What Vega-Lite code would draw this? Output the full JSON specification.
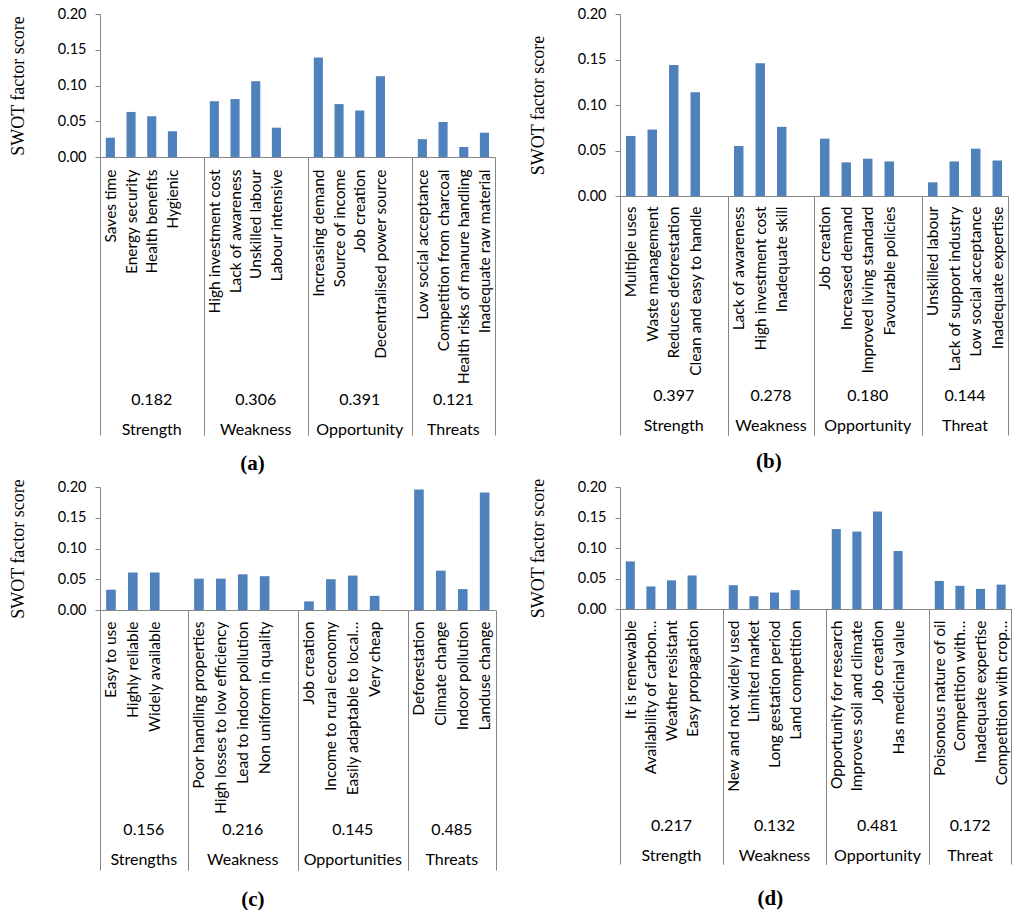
{
  "$schema": "https://vega.github.io/schema/vega-lite/v6.json",
  "background": "white",
  "padding": {"left": 9, "top": 6, "right": 0, "bottom": 0},
  "columns": 2,
  "spacing": {"row": 4, "column": 32},
  "concat": [
    {
      "title": {"text": "(a)", "offset": 15},
      "data": {"values": [
        {"group": "Strength", "gscore": "0.182", "item": "Saves time", "score": 0.027},
        {"group": "Strength", "gscore": "0.182", "item": "Energy security", "score": 0.063},
        {"group": "Strength", "gscore": "0.182", "item": "Health benefits", "score": 0.057},
        {"group": "Strength", "gscore": "0.182", "item": "Hygienic", "score": 0.036},
        {"group": "Strength", "gscore": "0.182", "item": " ", "score": null},
        {"group": "Weakness", "gscore": "0.306", "item": "High investment cost", "score": 0.078},
        {"group": "Weakness", "gscore": "0.306", "item": "Lack of awareness", "score": 0.081},
        {"group": "Weakness", "gscore": "0.306", "item": "Unskilled labour", "score": 0.106},
        {"group": "Weakness", "gscore": "0.306", "item": "Labour intensive", "score": 0.041},
        {"group": "Weakness", "gscore": "0.306", "item": " ", "score": null},
        {"group": "Opportunity", "gscore": "0.391", "item": "Increasing demand", "score": 0.139},
        {"group": "Opportunity", "gscore": "0.391", "item": "Source of income", "score": 0.074},
        {"group": "Opportunity", "gscore": "0.391", "item": "Job creation", "score": 0.065},
        {"group": "Opportunity", "gscore": "0.391", "item": "Decentralised power source", "score": 0.113},
        {"group": "Opportunity", "gscore": "0.391", "item": " ", "score": null},
        {"group": "Threats", "gscore": "0.121", "item": "Low social acceptance", "score": 0.025},
        {"group": "Threats", "gscore": "0.121", "item": "Competition from charcoal", "score": 0.049},
        {"group": "Threats", "gscore": "0.121", "item": "Health risks of manure handling", "score": 0.014},
        {"group": "Threats", "gscore": "0.121", "item": "Inadequate raw material", "score": 0.034}
      ]},
      "transform": [{"calculate": "datum.gscore + '|' + datum.group", "as": "header"}],
      "facet": {"column": {"field": "header", "type": "nominal", "title": null,
        "header": {"labelPadding": 235},
        "sort": ["0.182|Strength", "0.306|Weakness", "0.391|Opportunity", "0.121|Threats"]}},
      "spacing": 0,
      "bounds": "flush",
      "spec": {
        "width": {"step": 20.7},
        "height": 143,
        "mark": {"type": "bar", "invalid": "show", "width": {"band": 0.44}},
        "encoding": {
          "x": {"field": "item", "type": "nominal", "sort": null, "title": null,
            "scale": {"paddingInner": 0, "paddingOuter": 0},
            "axis": {"tickSize": 278, "labelPadding": -266,
              "tickOpacity": {"condition": {"test": "datum.index < 0 || datum.index >= 1", "value": 1}, "value": 0}}},
          "y": {"field": "score", "type": "quantitative", "scale": {"domain": [0, 0.2]}, "title": "SWOT factor score"}
        }
      },
      "resolve": {"scale": {"x": "independent"}}
    },
    {
      "title": {"text": "(b)", "offset": 15},
      "data": {"values": [
        {"group": "Strength", "gscore": "0.397", "item": "Multiple uses", "score": 0.066},
        {"group": "Strength", "gscore": "0.397", "item": "Waste management", "score": 0.073},
        {"group": "Strength", "gscore": "0.397", "item": "Reduces deforestation", "score": 0.144},
        {"group": "Strength", "gscore": "0.397", "item": "Clean and easy to handle", "score": 0.114},
        {"group": "Strength", "gscore": "0.397", "item": " ", "score": null},
        {"group": "Weakness", "gscore": "0.278", "item": "Lack of awareness", "score": 0.055},
        {"group": "Weakness", "gscore": "0.278", "item": "High investment cost", "score": 0.146},
        {"group": "Weakness", "gscore": "0.278", "item": "Inadequate skill", "score": 0.076},
        {"group": "Weakness", "gscore": "0.278", "item": " ", "score": null},
        {"group": "Opportunity", "gscore": "0.180", "item": "Job creation", "score": 0.063},
        {"group": "Opportunity", "gscore": "0.180", "item": "Increased demand", "score": 0.037},
        {"group": "Opportunity", "gscore": "0.180", "item": "Improved living standard", "score": 0.041},
        {"group": "Opportunity", "gscore": "0.180", "item": "Favourable policies", "score": 0.038},
        {"group": "Opportunity", "gscore": "0.180", "item": " ", "score": null},
        {"group": "Threat", "gscore": "0.144", "item": "Unskilled labour", "score": 0.015},
        {"group": "Threat", "gscore": "0.144", "item": "Lack of support industry", "score": 0.038},
        {"group": "Threat", "gscore": "0.144", "item": "Low social acceptance", "score": 0.052},
        {"group": "Threat", "gscore": "0.144", "item": "Inadequate expertise", "score": 0.039}
      ]},
      "transform": [{"calculate": "datum.gscore + '|' + datum.group", "as": "header"}],
      "facet": {"column": {"field": "header", "type": "nominal", "title": null,
        "header": {"labelPadding": 192},
        "sort": ["0.397|Strength", "0.278|Weakness", "0.180|Opportunity", "0.144|Threat"]}},
      "spacing": 0,
      "bounds": "flush",
      "spec": {
        "width": {"step": 21.5},
        "height": 182,
        "mark": {"type": "bar", "invalid": "show", "width": {"band": 0.44}},
        "encoding": {
          "x": {"field": "item", "type": "nominal", "sort": null, "title": null,
            "scale": {"paddingInner": 0, "paddingOuter": 0},
            "axis": {"tickSize": 239, "labelPadding": -229,
              "tickOpacity": {"condition": {"test": "datum.index < 0 || datum.index >= 1", "value": 1}, "value": 0}}},
          "y": {"field": "score", "type": "quantitative", "scale": {"domain": [0, 0.2]}, "title": "SWOT factor score"}
        }
      },
      "resolve": {"scale": {"x": "independent"}}
    },
    {
      "title": {"text": "(c)", "offset": 18},
      "data": {"values": [
        {"group": "Strengths", "gscore": "0.156", "item": "Easy to use", "score": 0.033},
        {"group": "Strengths", "gscore": "0.156", "item": "Highly reliable", "score": 0.061},
        {"group": "Strengths", "gscore": "0.156", "item": "Widely available", "score": 0.061},
        {"group": "Strengths", "gscore": "0.156", "item": " ", "score": null},
        {"group": "Weakness", "gscore": "0.216", "item": "Poor handling properties", "score": 0.051},
        {"group": "Weakness", "gscore": "0.216", "item": "High losses to low efficiency", "score": 0.051},
        {"group": "Weakness", "gscore": "0.216", "item": "Lead to indoor pollution", "score": 0.058},
        {"group": "Weakness", "gscore": "0.216", "item": "Non uniform in quality", "score": 0.055},
        {"group": "Weakness", "gscore": "0.216", "item": " ", "score": null},
        {"group": "Opportunities", "gscore": "0.145", "item": "Job creation", "score": 0.014},
        {"group": "Opportunities", "gscore": "0.145", "item": "Income to rural economy", "score": 0.05},
        {"group": "Opportunities", "gscore": "0.145", "item": "Easily adaptable to local…", "score": 0.056},
        {"group": "Opportunities", "gscore": "0.145", "item": "Very cheap", "score": 0.023},
        {"group": "Opportunities", "gscore": "0.145", "item": " ", "score": null},
        {"group": "Threats", "gscore": "0.485", "item": "Deforestation", "score": 0.196},
        {"group": "Threats", "gscore": "0.485", "item": "Climate change", "score": 0.064},
        {"group": "Threats", "gscore": "0.485", "item": "Indoor pollution", "score": 0.034},
        {"group": "Threats", "gscore": "0.485", "item": "Landuse change", "score": 0.191}
      ]},
      "transform": [{"calculate": "datum.gscore + '|' + datum.group", "as": "header"}],
      "facet": {"column": {"field": "header", "type": "nominal", "title": null,
        "header": {"labelPadding": 212},
        "sort": ["0.156|Strengths", "0.216|Weakness", "0.145|Opportunities", "0.485|Threats"]}},
      "spacing": 0,
      "bounds": "flush",
      "spec": {
        "width": {"step": 21.9},
        "height": 123,
        "mark": {"type": "bar", "invalid": "show", "width": {"band": 0.44}},
        "encoding": {
          "x": {"field": "item", "type": "nominal", "sort": null, "title": null,
            "scale": {"paddingInner": 0, "paddingOuter": 0},
            "axis": {"tickSize": 260, "labelPadding": -249,
              "tickOpacity": {"condition": {"test": "datum.index < 0 || datum.index >= 1", "value": 1}, "value": 0}}},
          "y": {"field": "score", "type": "quantitative", "scale": {"domain": [0, 0.2]}, "title": "SWOT factor score"}
        }
      },
      "resolve": {"scale": {"x": "independent"}}
    },
    {
      "title": {"text": "(d)", "offset": 23},
      "data": {"values": [
        {"group": "Strength", "gscore": "0.217", "item": "It is renewable", "score": 0.078},
        {"group": "Strength", "gscore": "0.217", "item": "Availability of carbon…", "score": 0.037},
        {"group": "Strength", "gscore": "0.217", "item": "Weather resistant", "score": 0.047},
        {"group": "Strength", "gscore": "0.217", "item": "Easy propagation", "score": 0.055},
        {"group": "Strength", "gscore": "0.217", "item": " ", "score": null},
        {"group": "Weakness", "gscore": "0.132", "item": "New and not widely used", "score": 0.039},
        {"group": "Weakness", "gscore": "0.132", "item": "Limited market", "score": 0.021},
        {"group": "Weakness", "gscore": "0.132", "item": "Long gestation period", "score": 0.027},
        {"group": "Weakness", "gscore": "0.132", "item": "Land competition", "score": 0.031},
        {"group": "Weakness", "gscore": "0.132", "item": " ", "score": null},
        {"group": "Opportunity", "gscore": "0.481", "item": "Opportunity for research", "score": 0.131},
        {"group": "Opportunity", "gscore": "0.481", "item": "Improves soil and climate", "score": 0.127},
        {"group": "Opportunity", "gscore": "0.481", "item": "Job creation", "score": 0.16},
        {"group": "Opportunity", "gscore": "0.481", "item": "Has medicinal value", "score": 0.095},
        {"group": "Opportunity", "gscore": "0.481", "item": " ", "score": null},
        {"group": "Threat", "gscore": "0.172", "item": "Poisonous nature of oil", "score": 0.046},
        {"group": "Threat", "gscore": "0.172", "item": "Competition with…", "score": 0.038},
        {"group": "Threat", "gscore": "0.172", "item": "Inadequate expertise", "score": 0.033},
        {"group": "Threat", "gscore": "0.172", "item": "Competition with crop…", "score": 0.04}
      ]},
      "transform": [{"calculate": "datum.gscore + '|' + datum.group", "as": "header"}],
      "facet": {"column": {"field": "header", "type": "nominal", "title": null,
        "header": {"labelPadding": 209},
        "sort": ["0.217|Strength", "0.132|Weakness", "0.481|Opportunity", "0.172|Threat"]}},
      "spacing": 0,
      "bounds": "flush",
      "spec": {
        "width": {"step": 20.6},
        "height": 122,
        "mark": {"type": "bar", "invalid": "show", "width": {"band": 0.44}},
        "encoding": {
          "x": {"field": "item", "type": "nominal", "sort": null, "title": null,
            "scale": {"paddingInner": 0, "paddingOuter": 0},
            "axis": {"tickSize": 255, "labelPadding": -244,
              "tickOpacity": {"condition": {"test": "datum.index < 0 || datum.index >= 1", "value": 1}, "value": 0}}},
          "y": {"field": "score", "type": "quantitative", "scale": {"domain": [0, 0.2]}, "title": "SWOT factor score"}
        }
      },
      "resolve": {"scale": {"x": "independent"}}
    }
  ],
  "config": {
    "view": {"stroke": null},
    "font": "Lato",
    "bar": {"color": "#4F81BD"},
    "axisX": {"labelAngle": -90, "labelFontSize": 15.5, "labelColor": "#000", "labelLimit": 0,
      "domainColor": "#868686", "tickColor": "#868686", "tickBand": "extent"},
    "axisY": {"values": [0, 0.05, 0.1, 0.15, 0.2], "format": ".2f", "grid": false,
      "labelFontSize": 14.5, "labelColor": "#000", "labelPadding": 9,
      "domainColor": "#868686", "tickColor": "#868686", "tickSize": 5,
      "titleFont": "Liberation Serif", "titleFontSize": 18, "titleFontWeight": "normal",
      "titleColor": "#000", "titlePadding": 30},
    "header": {"labelOrient": "bottom", "labelExpr": "split(datum.value, '|')",
      "labelFontSize": 16, "labelColor": "#000", "labelLineHeight": 30},
    "title": {"orient": "bottom", "font": "Liberation Serif", "fontSize": 21, "fontWeight": "bold",
      "color": "#000", "anchor": "middle"}
  }
}
